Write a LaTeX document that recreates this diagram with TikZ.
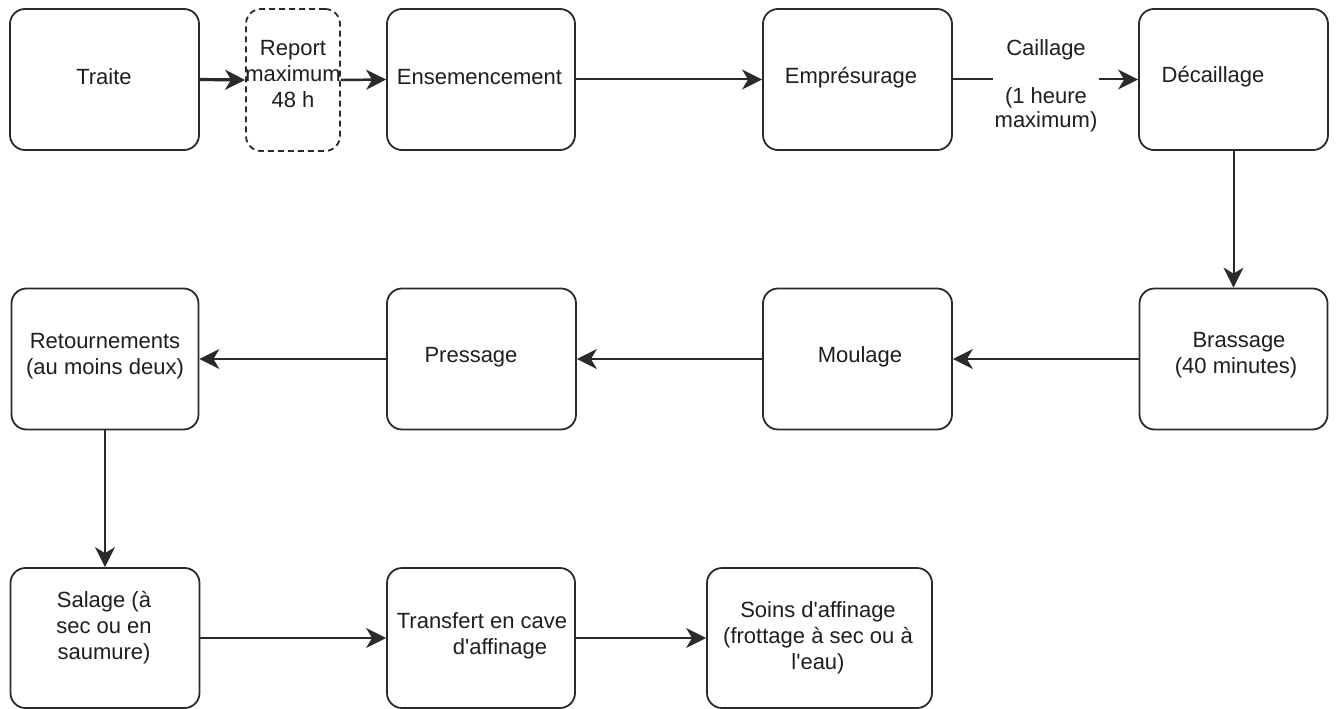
\documentclass[tikz,border=0pt]{standalone}
\usepackage{fontspec}
\setmainfont{Liberation Sans}[Ligatures=TeXOff]
\usetikzlibrary{arrows.meta}
\definecolor{ln}{HTML}{2A2A2A}
\definecolor{tx}{HTML}{1E1E1E}
\tikzset{myhead/.tip={Stealth[length=20pt, width=20pt, inset=6pt]}}
\begin{document}
\begin{tikzpicture}[x=1pt,y=-1pt,
  box/.style={draw=ln, line width=1.8pt, rounded corners=15pt, minimum height=141pt, inner sep=0pt},
  dbox/.style={box, dash pattern=on 6pt off 4pt},
  txt/.style={text=tx, font=\fontsize{22}{26}\selectfont, align=center, inner sep=0pt},
  conn/.style={draw=ln, line width=2pt, -myhead},
  plain/.style={draw=ln, line width=2pt}
]
\useasboundingbox (0,0) rectangle (1339,709);
% boxes
\node[box, minimum width=189pt] (tra) at (104.5,79.5) {};
\node[dbox, minimum width=94pt, minimum height=142pt] (rep) at (293,80) {};
\node[box, minimum width=188pt] (ens) at (481,79.5) {};
\node[box, minimum width=189pt] (emp) at (857.5,79.5) {};
\node[box, minimum width=189pt] (dec) at (1233.5,79.5) {};
\node[box, minimum width=187pt] (ret) at (105,359) {};
\node[box, minimum width=189pt] (pre) at (481.5,359) {};
\node[box, minimum width=189pt] (mou) at (857.5,359) {};
\node[box, minimum width=188pt] (bra) at (1233.5,359) {};
\node[box, minimum width=189pt, minimum height=140pt] (sal) at (105,638) {};
\node[box, minimum width=188pt, minimum height=140pt] (trf) at (481,638) {};
\node[box, minimum width=225pt, minimum height=140pt] (soi) at (819.5,638) {};
% texts
\node[txt] (ttra) at (104,77) {Traite};
\node[txt] (trep) at (293,74) {Report\\maximum\\48 h};
\node[txt] (tens) at (479.5,77) {Ensemencement};
\node[txt] (temp) at (851,78) {Emprésurage};
\node[txt] (tdec) at (1213,77) {Décaillage};
\node[txt] (tret) at (105,356) {Retournements\\(au moins deux)};
\node[txt] (tpre) at (471,357) {Pressage};
\node[txt] (tmou) at (860,357) {Moulage};
\node[txt] (tbra) at (1236,355) {\hspace*{6pt}Brassage\\(40 minutes)};
\node[txt] (tsal) at (104,628) {Salage (à\\sec ou en\\saumure)};
\node[txt] (ttrf) at (482,636) {Transfert en cave\\\hspace*{36pt}d'affinage};
\node[txt] (tsoi) at (818,638) {Soins d'affinage\\(frottage à sec ou à\\l'eau)};
% connectors
\draw[conn, line width=3.2pt] (tra.east) -- (rep.west);
\draw[conn, line width=2.5pt] (rep.east) -- (ens.west);
\draw[conn] (ens.east) -- (emp.west);
\node[txt, font=\fontsize{22}{24}\selectfont, fill=white, inner xsep=1pt] (cai) at (1046,86) {Caillage\\[24pt](1 heure\\maximum)};
\draw[plain] (emp.east) -- (cai.west |- emp.east);
\draw[conn] (cai.east |- dec.west) -- (dec.west);
\draw[conn] (dec.south) -- (bra.north);
\draw[conn] (bra.west) -- (mou.east);
\draw[conn] (mou.west) -- (pre.east);
\draw[conn] (pre.west) -- (ret.east);
\draw[conn] (ret.south) -- (sal.north);
\draw[conn] (sal.east) -- (trf.west);
\draw[conn] (trf.east) -- (soi.west);
\end{tikzpicture}
\end{document}
